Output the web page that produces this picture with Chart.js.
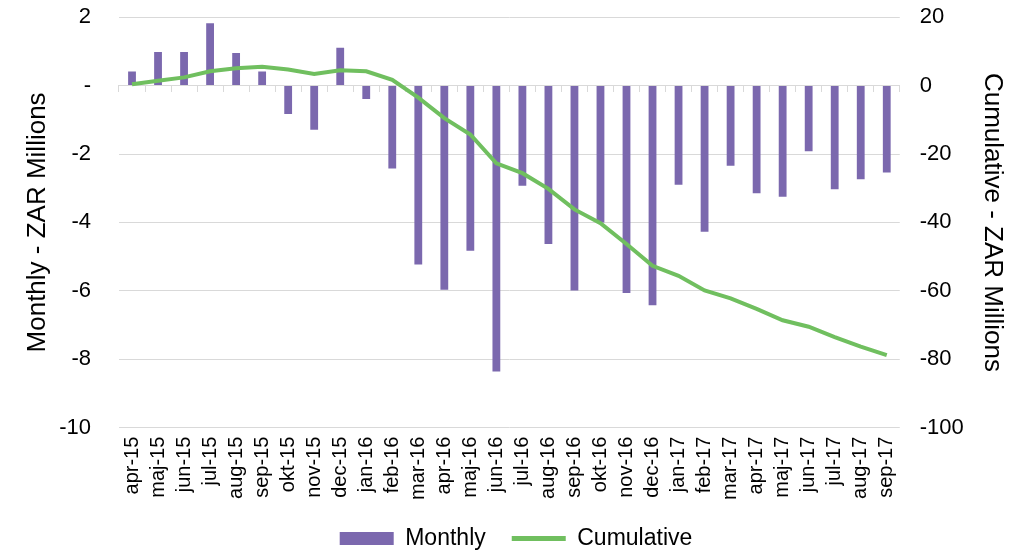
<!DOCTYPE html>
<html lang="en">
<head>
    <meta charset="UTF-8">
    <title>Monthly and Cumulative - ZAR Millions</title>
    <script src="https://cdn.jsdelivr.net/npm/chart.js"></script>
    <style>
        html, body { margin: 0; padding: 0; background: #fff; }
        #wrap { width: 1018px; height: 550px; }
    </style>
</head>
<body>
    <div id="wrap"><canvas id="myChart"></canvas></div>

    <script>
        // months (Danish/Swedish style short names)
        const months = ['apr-15', 'maj-15', 'jun-15', 'jul-15', 'aug-15', 'sep-15', 'okt-15', 'nov-15', 'dec-15',
            'jan-16', 'feb-16', 'mar-16', 'apr-16', 'maj-16', 'jun-16', 'jul-16', 'aug-16', 'sep-16', 'okt-16',
            'nov-16', 'dec-16', 'jan-17', 'feb-17', 'mar-17', 'apr-17', 'maj-17', 'jun-17', 'jul-17', 'aug-17', 'sep-17'];

        // monthly result, left axis
        const monthly = [0.41, 0.98, 0.98, 1.82, 0.95, 0.41, -0.83, -1.29, 1.11,
            -0.39, -2.42, -5.23, -5.97, -4.83, -8.36, -2.93, -4.63, -5.99, -4.0,
            -6.06, -6.42, -2.9, -4.27, -2.34, -3.15, -3.25, -1.92, -3.03, -2.74, -2.54];

        // cumulative result, right axis
        const cumulative = [0.4, 1.4, 2.4, 4.2, 5.1, 5.5, 4.7, 3.4, 4.5,
            4.2, 1.7, -3.5, -9.5, -14.3, -22.7, -25.6, -30.2, -36.2, -40.2,
            -46.3, -52.7, -55.6, -59.9, -62.2, -65.3, -68.6, -70.5, -73.5, -76.3, -78.8];

        const font = "'Liberation Sans', Arial, sans-serif";
        const purple = '#7B68AE';
        const green = '#70BF5F';
        const gridColor = '#d9d9d9';
        const clear = 'rgba(0,0,0,0)';

        const ctx = document.getElementById('myChart').getContext('2d');
        const myChart = new Chart(ctx, {
            type: 'bar',
            data: {
                labels: months,
                datasets: [{
                    label: 'Monthly',
                    data: monthly,
                    backgroundColor: purple,
                    yAxisID: 'y',
                    xAxisID: 'x',
                    categoryPercentage: 1,
                    barPercentage: 0.3,
                    order: 2
                }, {
                    type: 'line',
                    label: 'Cumulative',
                    data: cumulative,
                    borderColor: green,
                    backgroundColor: green,
                    borderWidth: 4,
                    pointRadius: 0,
                    tension: 0,
                    yAxisID: 'y1',
                    xAxisID: 'x',
                    order: 1
                }]
            },
            options: {
                responsive: true,
                maintainAspectRatio: false,
                animation: false,
                // small negative bottom: legend padding is wide (item gap), pull it back down a bit
                layout: { padding: { top: 0, left: 22, right: 8, bottom: -10 } },
                plugins: {
                    tooltip: { enabled: false },
                    legend: {
                        position: 'bottom',
                        labels: {
                            font: { family: font, size: 23 },
                            color: '#000',
                            usePointStyle: true,
                            pointStyleWidth: 54,
                            boxHeight: 13,
                            padding: 26,
                            sort: (a, b) => a.datasetIndex - b.datasetIndex,
                            generateLabels: function (chart) {
                                const items = Chart.defaults.plugins.legend.labels.generateLabels(chart);
                                items.forEach(it => {
                                    if (it.datasetIndex === 0) {
                                        it.pointStyle = 'rect';
                                        it.lineWidth = 0;
                                        it.fillStyle = purple;
                                    } else {
                                        it.pointStyle = 'line';
                                        it.lineWidth = 5;
                                        it.strokeStyle = green;
                                    }
                                });
                                return items;
                            }
                        }
                    }
                },
                scales: {
                    x: {
                        position: 'bottom',
                        grid: { display: false },
                        border: { display: false },
                        ticks: {
                            font: { family: font, size: 20 },
                            color: '#000',
                            minRotation: 90,
                            maxRotation: 90,
                            autoSkip: false,
                            padding: 1
                        }
                    },
                    // axis line at zero with tick marks between months
                    x0: {
                        type: 'category',
                        labels: months,
                        position: { y: 0 },
                        offset: true,
                        ticks: { display: false },
                        grid: { drawOnChartArea: false, drawTicks: true, tickLength: 6, color: gridColor, offset: true },
                        border: { color: gridColor, width: 1 }
                    },
                    y: {
                        position: 'left',
                        min: -10,
                        max: 2,
                        ticks: {
                            stepSize: 2,
                            font: { family: font, size: 22 },
                            color: '#000',
                            padding: 4,
                            callback: v => v === 0 ? '-' : v
                        },
                        grid: { color: gridColor, drawTicks: true, tickLength: 24, tickColor: clear },
                        border: { display: false },
                        title: {
                            display: true,
                            text: 'Monthly - ZAR Millions',
                            font: { family: font, size: 26 },
                            color: '#000',
                            padding: { top: 0, bottom: 2 }
                        }
                    },
                    y1: {
                        position: 'right',
                        min: -100,
                        max: 20,
                        ticks: {
                            stepSize: 20,
                            font: { family: font, size: 22 },
                            color: '#000',
                            padding: 4
                        },
                        grid: { display: true, drawOnChartArea: false, drawTicks: true, tickLength: 16, tickColor: clear },
                        border: { display: false },
                        title: {
                            display: true,
                            text: 'Cumulative - ZAR Millions',
                            font: { family: font, size: 26 },
                            color: '#000',
                            padding: { top: 2, bottom: 9 }
                        }
                    }
                }
            }
        });
    </script>
</body>
</html>
